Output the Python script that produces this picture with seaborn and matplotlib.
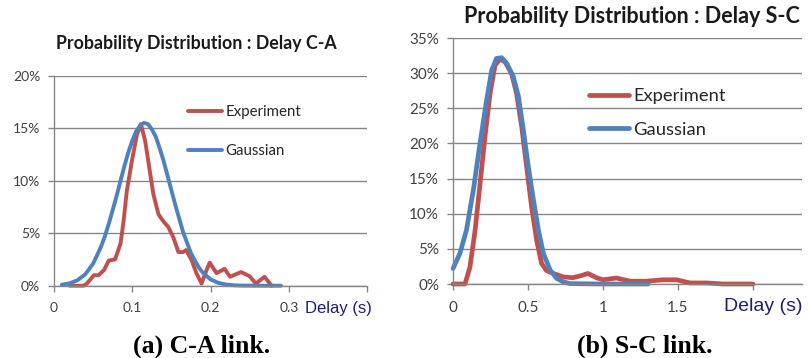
import numpy as np
import pandas as pd
import matplotlib
matplotlib.use("Agg")
import matplotlib.pyplot as plt
import seaborn as sns

# ---------------- data ----------------
# (a) C-A link, delay in seconds, probability in %
ca_exp_x = [0.02, 0.038, 0.042, 0.051, 0.057, 0.064, 0.070, 0.078, 0.085, 0.089,
            0.093, 0.0996, 0.106, 0.111, 0.1165, 0.121, 0.127, 0.1335, 0.140, 0.146,
            0.1525, 0.159, 0.165, 0.169, 0.176, 0.182, 0.1886, 0.195, 0.199, 0.2076,
            0.218, 0.225, 0.239, 0.250, 0.258, 0.269, 0.278]
ca_exp_y = [0.0, 0.0, 0.2, 1.0, 1.0, 1.5, 2.4, 2.5, 4.0, 6.2,
            9.0, 11.9, 14.4, 15.4, 13.8, 11.6, 8.7, 6.8, 6.1, 5.6,
            4.6, 3.2, 3.2, 3.4, 2.4, 1.2, 0.2, 1.5, 2.2, 1.2,
            1.6, 0.85, 1.3, 0.9, 0.2, 0.85, 0.0]
ca_gau_x = [0.01, 0.02, 0.03, 0.04, 0.05, 0.06, 0.065, 0.07, 0.075, 0.08, 0.085,
            0.09, 0.095, 0.10, 0.105, 0.11, 0.115, 0.12, 0.125, 0.13, 0.135,
            0.14, 0.145, 0.15, 0.155, 0.16, 0.165, 0.17, 0.175, 0.18, 0.185,
            0.19, 0.20, 0.21, 0.22, 0.23, 0.24, 0.26, 0.29]
ca_gau_y = [0.09, 0.23, 0.52, 1.09, 2.1, 3.7, 4.7, 5.9, 7.2, 8.55, 10.0,
            11.4, 12.7, 13.8, 14.7, 15.25, 15.5, 15.4, 14.9, 14.2, 13.1,
            11.9, 10.5, 9.1, 7.7, 6.4, 5.1, 4.1, 3.1, 2.4, 1.75,
            1.26, 0.6, 0.27, 0.11, 0.04, 0.01, 0.0, 0.0]

# (b) S-C link
sc_exp_x = [0.0, 0.08, 0.113, 0.147, 0.18, 0.213, 0.247, 0.28, 0.313, 0.347,
            0.391, 0.424, 0.458, 0.491, 0.524, 0.558, 0.591, 0.624, 0.669, 0.736,
            0.80, 0.856, 0.90, 0.956, 1.0, 1.09, 1.18, 1.29, 1.40, 1.49,
            1.58, 1.69, 1.80, 2.0]
sc_exp_y = [0.0, 0.0, 2.4, 7.6, 14.2, 20.9, 27.1, 31.1, 32.0, 31.6,
            29.9, 27.1, 22.4, 16.7, 11.0, 6.2, 2.9, 1.9, 1.5, 1.0,
            0.9, 1.2, 1.5, 0.9, 0.6, 0.85, 0.4, 0.4, 0.6, 0.6,
            0.15, 0.15, 0.0, 0.0]
sc_gau_x = [0.0, 0.047, 0.09, 0.136, 0.18, 0.224, 0.258, 0.29, 0.324, 0.358,
            0.402, 0.436, 0.469, 0.502, 0.536, 0.569, 0.602, 0.647, 0.691, 0.736,
            0.78, 1.0, 1.3]
sc_gau_y = [2.2, 4.4, 7.7, 13.4, 20.0, 26.1, 30.4, 32.1, 32.2, 31.4,
            29.5, 26.7, 21.9, 16.7, 12.0, 7.7, 4.4, 2.0, 0.8, 0.3,
            0.05, 0.0, 0.0]

ca_xticks = [0, 0.1, 0.2, 0.3, 0.4]
ca_xlabels = ["0", "0.1", "0.2", "0.3", ""]
ca_yticks = [0, 5, 10, 15, 20]
sc_xticks = [0, 0.5, 1, 1.5, 2]
sc_xlabels = ["0", "0.5", "1", "1.5", ""]
sc_yticks = [0, 5, 10, 15, 20, 25, 30, 35]

series_names = ["Experiment", "Gaussian"]
titles = ["Probability Distribution : Delay C-A", "Probability Distribution : Delay S-C"]
captions = ["(a) C-A link.", "(b) S-C link."]
xlabel_text = "Delay (s)"

# ---------------- style ----------------
sns.set_style("white")
plt.rcParams["font.family"] = ["Lato", "DejaVu Sans"]

RED = "#C0504D"
BLUE = "#4F81BD"
GRID = "#868686"
TXT = "#404040"

W, H = 808, 358
fig = plt.figure(figsize=(W / 100, H / 100), dpi=100)

def fx(px):
    return px / W

def fy(py):
    return 1 - py / H

axA = fig.add_axes([fx(54), fy(285.7), fx(367 - 54), (285.7 - 75.7) / H])
axB = fig.add_axes([fx(453), fy(284), fx(802 - 453), (284 - 38) / H])

def style_axis(ax, xlim, xticks, xlabels, yticks, tick_fs):
    ax.set_xlim(*xlim)
    ax.set_ylim(yticks[0], yticks[-1])
    ax.set_xticks(xticks)
    ax.set_xticklabels(xlabels)
    ax.set_yticks(yticks)
    ax.set_yticklabels([f"{v}%" for v in yticks])
    ax.yaxis.grid(True, color=GRID, lw=1.0)
    ax.xaxis.grid(False)
    ax.set_axisbelow(True)
    for s in ["top", "right"]:
        ax.spines[s].set_visible(False)
    for s in ["left", "bottom"]:
        ax.spines[s].set_color(GRID)
        ax.spines[s].set_linewidth(1.0)
    ax.tick_params(axis="x", direction="out", length=4, width=1, color=GRID,
                   labelsize=tick_fs, labelcolor=TXT, pad=8, bottom=True)
    ax.tick_params(axis="y", direction="out", length=4, width=1, color=GRID,
                   labelsize=tick_fs, labelcolor=TXT, pad=6, left=True)
    ax.set_xlabel("")
    ax.set_ylabel("")

dfA_e = pd.DataFrame({"x": ca_exp_x, "y": ca_exp_y})
dfA_g = pd.DataFrame({"x": ca_gau_x, "y": ca_gau_y})
dfB_e = pd.DataFrame({"x": sc_exp_x, "y": sc_exp_y})
dfB_g = pd.DataFrame({"x": sc_gau_x, "y": sc_gau_y})

LWA, LWB = 2.8, 3.4
sns.lineplot(data=dfA_e, x="x", y="y", ax=axA, color=RED, lw=LWA, estimator=None,
             label=series_names[0], solid_capstyle="round", solid_joinstyle="round")
sns.lineplot(data=dfA_g, x="x", y="y", ax=axA, color=BLUE, lw=LWA, estimator=None,
             label=series_names[1], solid_capstyle="round", solid_joinstyle="round")
sns.lineplot(data=dfB_e, x="x", y="y", ax=axB, color=RED, lw=LWB, estimator=None,
             label=series_names[0], solid_capstyle="round", solid_joinstyle="round")
sns.lineplot(data=dfB_g, x="x", y="y", ax=axB, color=BLUE, lw=LWB, estimator=None,
             label=series_names[1], solid_capstyle="round", solid_joinstyle="round")

style_axis(axA, (0, 0.4), ca_xticks, ca_xlabels, ca_yticks, 10)
style_axis(axB, (0, 2.327), sc_xticks, sc_xlabels, sc_yticks, 11)
for ax in (axA, axB):
    for ln in ax.get_lines():
        ln.set_clip_on(False)

# legends
legA = axA.legend(loc="upper left", bbox_to_anchor=(fx(188), fy(105)),
                  bbox_transform=fig.transFigure, frameon=False, fontsize=10.8,
                  handlelength=2.25, handletextpad=0.25, labelspacing=1.67,
                  borderpad=0, borderaxespad=0)
legB = axB.legend(loc="upper left", bbox_to_anchor=(fx(589), fy(88)),
                  bbox_transform=fig.transFigure, frameon=False, fontsize=13.2,
                  handlelength=2.2, handletextpad=0.2, labelspacing=0.97,
                  borderpad=0, borderaxespad=0)
for leg in (legA, legB):
    for t in leg.get_texts():
        t.set_color("#262626")

# titles
fig.text(fx(196), fy(49.3), titles[0], ha="center", va="baseline",
         fontsize=12.8, fontweight="bold", color="#1a1a1a")
fig.text(fx(632), fy(22.7), titles[1], ha="center", va="baseline",
         fontsize=15.5, fontweight="bold", color="#1a1a1a")

# axis labels
fig.text(fx(305), fy(312.7), xlabel_text, ha="left", va="baseline",
         fontsize=12, color="#1F1F6E", family=["Liberation Sans", "DejaVu Sans"])
fig.text(fx(724), fy(310.7), xlabel_text, ha="left", va="baseline",
         fontsize=14, color="#1F1F6E", family=["Liberation Sans", "DejaVu Sans"])

# captions
fig.text(fx(202), fy(353), captions[0], ha="center", va="baseline",
         fontsize=18.5, fontweight="bold", color="black",
         family=["Liberation Serif", "DejaVu Serif"])
fig.text(fx(645), fy(353), captions[1], ha="center", va="baseline",
         fontsize=18.5, fontweight="bold", color="black",
         family=["Liberation Serif", "DejaVu Serif"])

fig.savefig("out.png", dpi=100, facecolor="white")
